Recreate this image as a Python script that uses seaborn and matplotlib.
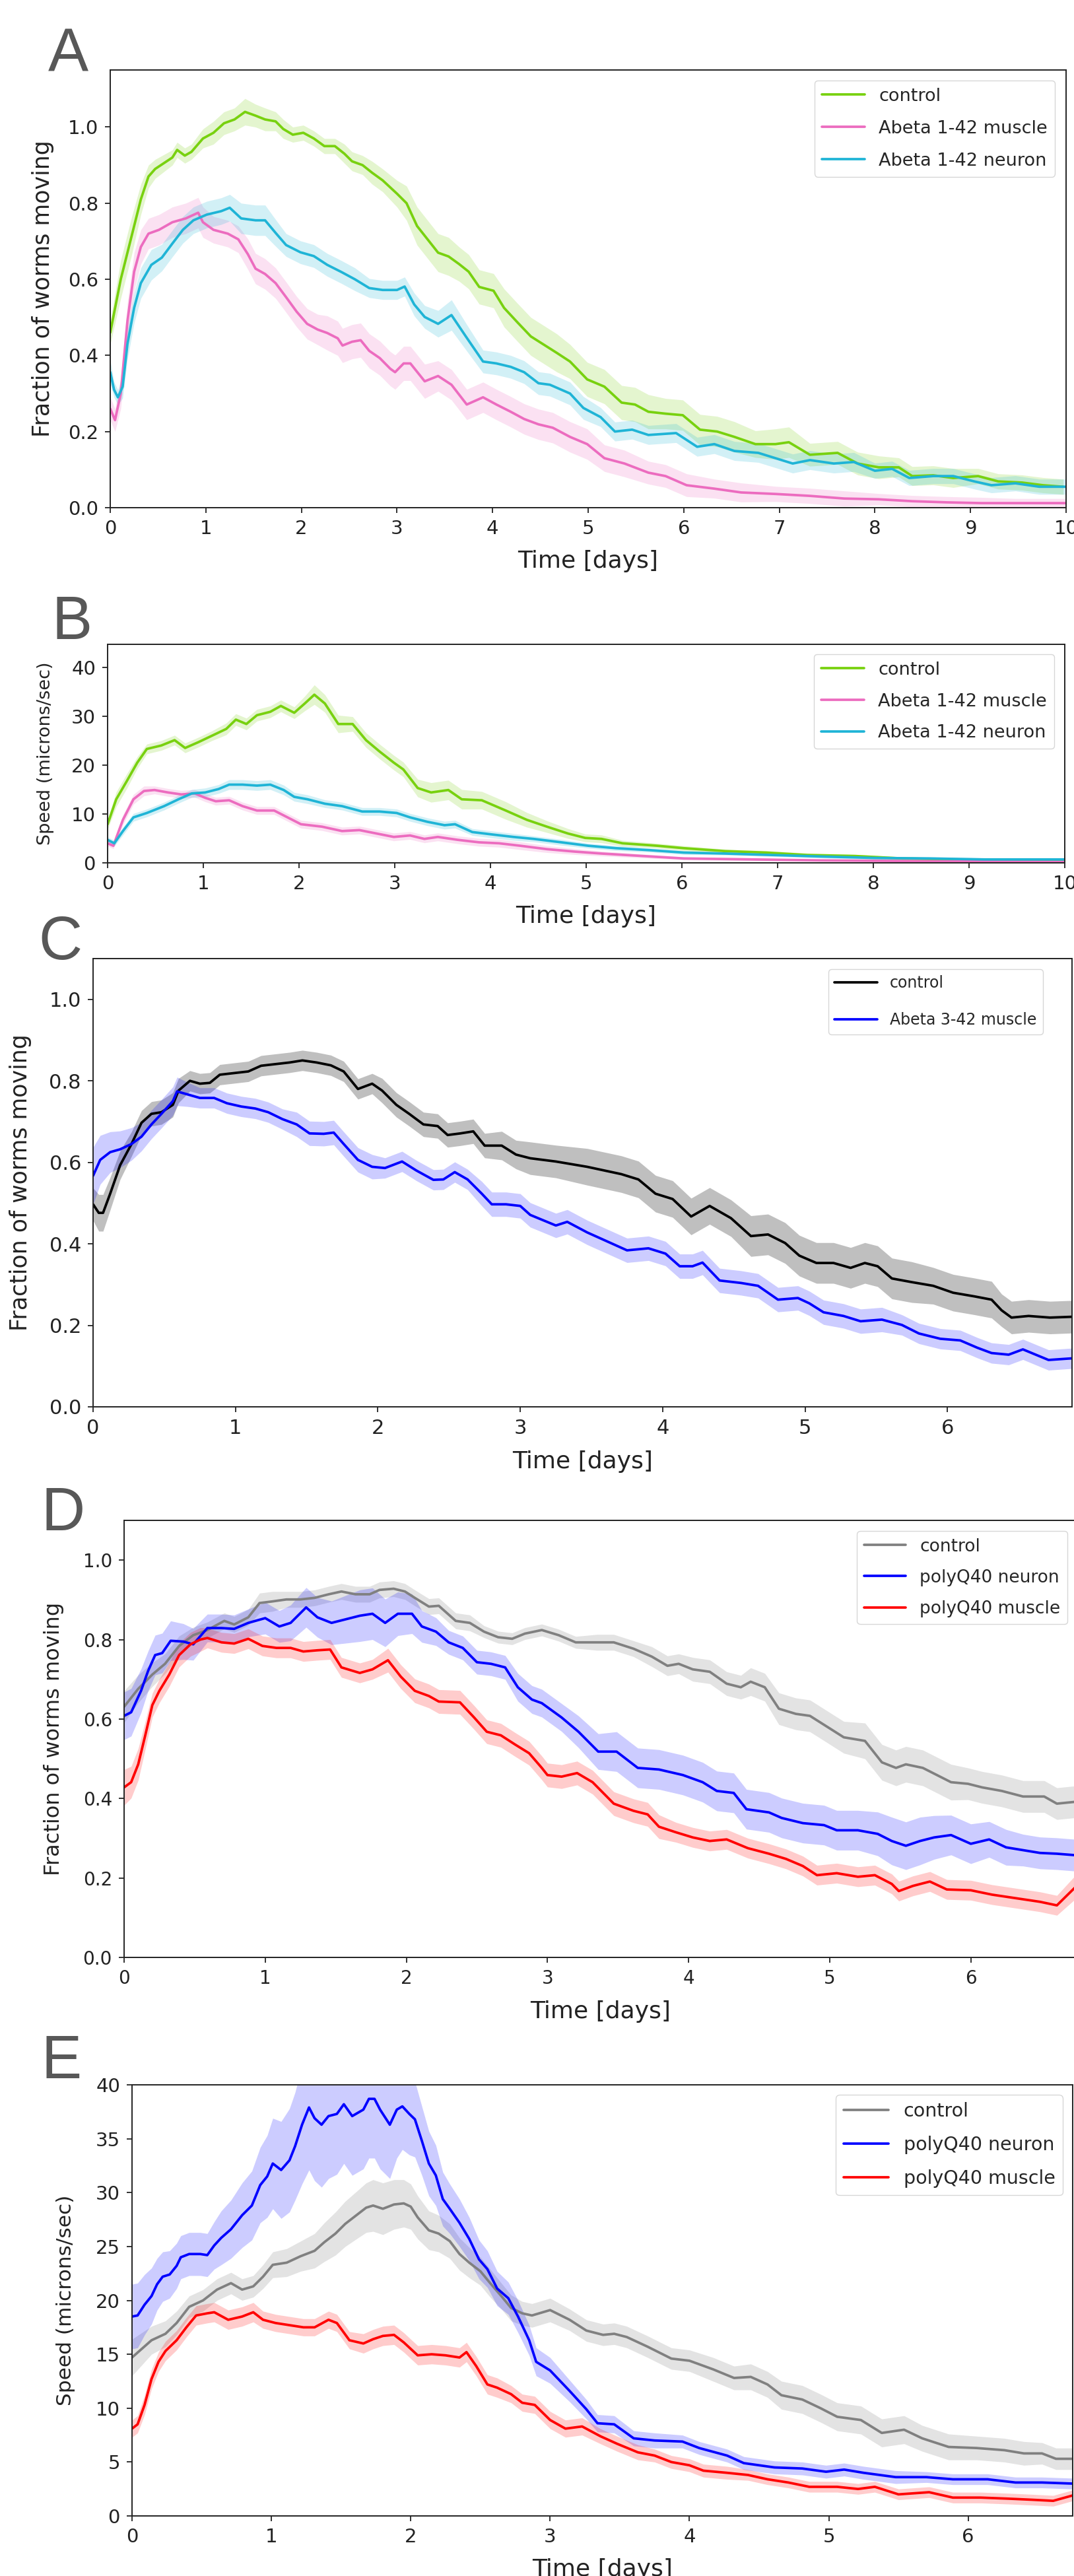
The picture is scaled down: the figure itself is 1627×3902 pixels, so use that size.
import numpy as np
import matplotlib
matplotlib.use('Agg')
import matplotlib.pyplot as plt
import seaborn as sns

# ---------------- Panel A: fraction moving, Abeta 1-42 ----------------
a_ctrl_t = [0, 0.11, 0.22, 0.32, 0.40, 0.47, 0.65, 0.70, 0.78, 0.85, 0.97, 1.08, 1.19, 1.30, 1.41, 1.52, 1.62, 1.73, 1.81, 1.91,
            2.02, 2.13, 2.24, 2.35, 2.45, 2.53, 2.64, 2.74, 2.85, 3.00, 3.10, 3.21, 3.32, 3.43, 3.54, 3.65, 3.75, 3.86, 4.01, 4.12,
            4.26, 4.40, 4.67, 4.81, 4.99, 5.17, 5.35, 5.49, 5.63, 5.81, 5.99, 6.17, 6.35, 6.53, 6.75, 6.96, 7.10, 7.32, 7.61, 7.82,
            8.04, 8.25, 8.39, 8.61, 8.82, 9.08, 9.29, 9.54, 9.76, 9.97]
a_ctrl = [0.46, 0.60, 0.71, 0.81, 0.87, 0.89, 0.92, 0.94, 0.925, 0.935, 0.97, 0.985, 1.01, 1.02, 1.04, 1.03, 1.02, 1.015, 0.995, 0.98,
          0.985, 0.97, 0.95, 0.95, 0.93, 0.91, 0.90, 0.88, 0.86, 0.825, 0.80, 0.74, 0.705, 0.67, 0.66, 0.64, 0.62, 0.58, 0.57, 0.525,
          0.487, 0.45, 0.407, 0.384, 0.337, 0.318, 0.276, 0.271, 0.252, 0.247, 0.243, 0.205, 0.200, 0.186, 0.167, 0.167, 0.172, 0.139, 0.144, 0.116,
          0.106, 0.106, 0.083, 0.085, 0.078, 0.083, 0.069, 0.066, 0.059, 0.055]
a_ctrl_err = [0.03, 0.05, 0.05, 0.04, 0.03, 0.025, 0.02, 0.02, 0.02, 0.02, 0.025, 0.03, 0.03, 0.03, 0.035, 0.03, 0.03, 0.025, 0.025, 0.02,
              0.02, 0.02, 0.02, 0.02, 0.025, 0.025, 0.025, 0.03, 0.03, 0.035, 0.045, 0.05, 0.05, 0.05, 0.05, 0.045, 0.045, 0.045, 0.045, 0.05,
              0.05, 0.05, 0.05, 0.045, 0.045, 0.045, 0.045, 0.045, 0.045, 0.04, 0.04, 0.04, 0.04, 0.04, 0.035, 0.04, 0.04, 0.03, 0.03, 0.03,
              0.03, 0.025, 0.025, 0.025, 0.025, 0.02, 0.02, 0.02, 0.02, 0.02]

a_musc_t = [0, 0.05, 0.11, 0.18, 0.25, 0.32, 0.40, 0.51, 0.65, 0.79, 0.92, 0.97, 1.08, 1.23, 1.34, 1.44, 1.52, 1.62, 1.73, 1.84,
            1.95, 2.06, 2.17, 2.27, 2.38, 2.43, 2.53, 2.62, 2.71, 2.82, 2.93, 2.98, 3.07, 3.14, 3.29, 3.43, 3.57, 3.73, 3.90, 4.04,
            4.19, 4.33, 4.48, 4.63, 4.81, 4.99, 5.17, 5.38, 5.63, 5.81, 6.03, 6.32, 6.60, 6.96, 7.32, 7.68, 8.04, 8.39, 8.75, 9.11,
            9.47, 10.0]
a_musc = [0.26, 0.23, 0.30, 0.49, 0.62, 0.685, 0.72, 0.73, 0.75, 0.76, 0.775, 0.75, 0.73, 0.72, 0.705, 0.666, 0.628, 0.614, 0.59, 0.553,
          0.515, 0.483, 0.468, 0.459, 0.445, 0.426, 0.436, 0.44, 0.412, 0.393, 0.365, 0.356, 0.379, 0.379, 0.332, 0.346, 0.323, 0.271, 0.29, 0.271,
          0.252, 0.233, 0.219, 0.21, 0.186, 0.167, 0.13, 0.116, 0.092, 0.083, 0.059, 0.05, 0.04, 0.036, 0.031, 0.024, 0.022, 0.017, 0.014, 0.012,
          0.012, 0.012]
a_musc_err = [0.03, 0.03, 0.04, 0.05, 0.05, 0.045, 0.04, 0.04, 0.04, 0.04, 0.04, 0.04, 0.035, 0.035, 0.035, 0.04, 0.04, 0.04, 0.04, 0.04,
              0.04, 0.04, 0.04, 0.045, 0.045, 0.045, 0.045, 0.045, 0.045, 0.045, 0.045, 0.045, 0.045, 0.045, 0.045, 0.04, 0.04, 0.04, 0.04, 0.04,
              0.04, 0.04, 0.04, 0.04, 0.04, 0.04, 0.035, 0.035, 0.03, 0.03, 0.03, 0.025, 0.025, 0.02, 0.02, 0.02, 0.015, 0.015, 0.015, 0.015,
              0.012, 0.012]

a_neur_t = [0, 0.04, 0.08, 0.13, 0.18, 0.25, 0.32, 0.43, 0.54, 0.65, 0.76, 0.87, 1.01, 1.16, 1.25, 1.37, 1.52, 1.62, 1.73, 1.84,
            1.99, 2.13, 2.27, 2.42, 2.56, 2.71, 2.85, 3.00, 3.08, 3.18, 3.29, 3.43, 3.57, 3.72, 3.90, 4.04, 4.19, 4.33, 4.48, 4.60,
            4.81, 4.95, 5.13, 5.28, 5.46, 5.63, 5.92, 6.14, 6.32, 6.53, 6.78, 7.14, 7.32, 7.57, 7.78, 8.00, 8.18, 8.36, 8.61, 8.82,
            9.04, 9.22, 9.47, 9.72, 10.0]
a_neur = [0.356, 0.31, 0.29, 0.318, 0.43, 0.525, 0.59, 0.638, 0.657, 0.694, 0.73, 0.755, 0.77, 0.779, 0.788, 0.76, 0.755, 0.755, 0.722, 0.69,
          0.671, 0.661, 0.638, 0.619, 0.60, 0.577, 0.572, 0.572, 0.581, 0.534, 0.501, 0.483, 0.506, 0.45, 0.384, 0.379, 0.37, 0.356, 0.327, 0.323,
          0.30, 0.262, 0.238, 0.20, 0.205, 0.191, 0.196, 0.16, 0.167, 0.149, 0.144, 0.116, 0.125, 0.116, 0.12, 0.097, 0.102, 0.078, 0.083, 0.083,
          0.069, 0.059, 0.064, 0.055, 0.055]
a_neur_err = [0.03, 0.02, 0.02, 0.03, 0.04, 0.04, 0.04, 0.04, 0.035, 0.035, 0.035, 0.035, 0.035, 0.035, 0.035, 0.04, 0.04, 0.04, 0.035, 0.03,
              0.03, 0.03, 0.03, 0.03, 0.03, 0.025, 0.025, 0.025, 0.025, 0.03, 0.03, 0.035, 0.04, 0.035, 0.03, 0.03, 0.03, 0.03, 0.03, 0.03,
              0.03, 0.03, 0.025, 0.025, 0.025, 0.025, 0.025, 0.025, 0.025, 0.025, 0.025, 0.025, 0.025, 0.025, 0.025, 0.02, 0.02, 0.02, 0.02, 0.02,
              0.02, 0.02, 0.02, 0.02, 0.02]

# ---------------- Panel B: speed, Abeta 1-42 ----------------
b_ctrl_t = [0, 0.09, 0.2, 0.31, 0.41, 0.56, 0.70, 0.81, 0.95, 1.09, 1.24, 1.34, 1.45, 1.56, 1.70, 1.81, 1.95, 2.06, 2.16, 2.27,
            2.41, 2.56, 2.70, 2.84, 2.99, 3.09, 3.24, 3.38, 3.56, 3.70, 3.91, 4.16, 4.38, 4.59, 4.81, 4.99, 5.16, 5.38, 5.74, 6.02,
            6.45, 6.88, 7.31, 7.81, 8.31, 8.88, 9.45, 10.0]
b_ctrl = [7.9, 13, 16.7, 20.5, 23.3, 24, 25.1, 23.5, 24.7, 26, 27.4, 29.3, 28.4, 30.2, 30.9, 32.1, 30.7, 32.6, 34.4, 32.6,
          28.4, 28.4, 25.1, 22.8, 20.5, 19.1, 15.3, 14.4, 14.9, 13, 12.8, 10.7, 8.8, 7.4, 6, 5.1, 4.9, 4, 3.5, 3,
          2.4, 2.1, 1.6, 1.4, 0.9, 0.7, 0.6, 0.5]
b_ctrl_err = [1.0, 1.5, 1.5, 1.2, 1.0, 1.0, 1.0, 1.0, 1.0, 1.0, 1.2, 1.2, 1.2, 1.2, 1.2, 1.2, 1.2, 1.5, 2.0, 1.8,
              1.8, 1.5, 1.5, 1.5, 1.5, 1.5, 1.8, 2.0, 2.0, 2.0, 1.8, 1.8, 1.5, 1.2, 1.0, 0.8, 0.8, 0.6, 0.5, 0.5,
              0.4, 0.4, 0.4, 0.3, 0.3, 0.3, 0.3, 0.3]

b_musc_t = [0, 0.06, 0.16, 0.27, 0.38, 0.49, 0.63, 0.77, 0.91, 1.02, 1.13, 1.27, 1.41, 1.56, 1.74, 1.88, 2.02, 2.24, 2.45, 2.63,
            2.81, 2.99, 3.16, 3.31, 3.45, 3.66, 3.88, 4.09, 4.31, 4.59, 4.88, 5.16, 5.59, 6.02, 6.74, 7.45, 8.16, 8.88, 10.0]
b_musc = [4, 3.5, 8.8, 13, 14.7, 14.9, 14.4, 14, 14.2, 13.3, 12.6, 12.8, 11.6, 10.7, 10.7, 9.3, 7.9, 7.4, 6.5, 6.7,
          6, 5.3, 5.6, 4.9, 5.3, 4.7, 4.2, 4, 3.5, 2.8, 2.3, 1.9, 1.4, 0.9, 0.7, 0.5, 0.4, 0.3, 0.2]
b_musc_err = [0.6, 0.6, 1.0, 1.0, 1.0, 0.8, 0.8, 0.8, 0.8, 0.8, 0.8, 0.8, 0.8, 0.8, 0.8, 0.8, 0.8, 0.8, 0.8, 0.8,
              0.8, 0.8, 0.8, 0.8, 0.8, 0.8, 0.8, 0.8, 0.8, 0.7, 0.6, 0.5, 0.4, 0.3, 0.3, 0.2, 0.2, 0.2, 0.2]

b_neur_t = [0, 0.07, 0.16, 0.27, 0.41, 0.59, 0.74, 0.88, 1.02, 1.16, 1.27, 1.41, 1.56, 1.70, 1.84, 1.95, 2.09, 2.27, 2.45, 2.66,
            2.84, 3.02, 3.16, 3.34, 3.52, 3.63, 3.81, 4.02, 4.24, 4.45, 4.74, 5.02, 5.31, 5.66, 6.02, 6.45, 6.95, 7.45, 8.02, 8.59,
            9.16, 10.0]
b_neur = [4.7, 4, 6.5, 9.3, 10.2, 11.6, 13, 14.2, 14.4, 15.1, 16, 16, 15.8, 16, 14.9, 13.5, 13, 12.1, 11.6, 10.5,
          10.5, 10.2, 9.3, 8.4, 7.7, 7.9, 6.3, 5.8, 5.3, 4.9, 4.2, 3.5, 3, 2.6, 2.1, 1.9, 1.6, 1.3, 1.0, 0.9,
          0.7, 0.7]
b_neur_err = [0.6, 0.6, 0.8, 0.8, 0.8, 0.8, 0.8, 0.8, 0.9, 0.9, 1.0, 1.0, 1.0, 1.0, 1.0, 0.9, 0.9, 0.8, 0.8, 0.8,
              0.8, 0.8, 0.8, 0.8, 0.8, 0.8, 0.7, 0.7, 0.7, 0.6, 0.6, 0.5, 0.5, 0.4, 0.4, 0.3, 0.3, 0.3, 0.3, 0.3,
              0.3, 0.3]

# ---------------- Panel C: fraction moving, Abeta 3-42 ----------------
c_ctrl_t = [0, 0.04, 0.07, 0.12, 0.19, 0.27, 0.34, 0.41, 0.48, 0.56, 0.60, 0.68, 0.75, 0.82, 0.89, 0.99, 1.09, 1.18, 1.28, 1.38,
            1.47, 1.57, 1.67, 1.76, 1.86, 1.96, 2.03, 2.13, 2.22, 2.32, 2.42, 2.49, 2.58, 2.67, 2.75, 2.87, 2.97, 3.07,
            3.25, 3.47, 3.71, 3.83, 3.95, 4.07, 4.20, 4.33, 4.48, 4.62, 4.74, 4.86, 4.96, 5.08, 5.20, 5.32, 5.42, 5.51, 5.61, 5.75,
            5.90, 6.04, 6.19, 6.31, 6.38, 6.45, 6.57, 6.72, 6.875]
c_ctrl = [0.497, 0.476, 0.476, 0.523, 0.593, 0.645, 0.697, 0.719, 0.723, 0.741, 0.776, 0.80, 0.793, 0.795, 0.815, 0.819, 0.823, 0.837, 0.841, 0.845,
          0.85, 0.845, 0.838, 0.823, 0.78, 0.793, 0.776, 0.741, 0.719, 0.693, 0.689, 0.667, 0.671, 0.676, 0.641, 0.641, 0.619, 0.61,
          0.602, 0.589, 0.571, 0.558, 0.523, 0.51, 0.467, 0.493, 0.463, 0.419, 0.423, 0.402, 0.371, 0.353, 0.353, 0.341, 0.353, 0.345, 0.315, 0.306,
          0.297, 0.28, 0.271, 0.263, 0.237, 0.219, 0.223, 0.219, 0.221]
c_ctrl_err = [0.04, 0.045, 0.045, 0.04, 0.035, 0.03, 0.03, 0.03, 0.03, 0.03, 0.03, 0.025, 0.025, 0.025, 0.025, 0.025, 0.025, 0.025, 0.025, 0.025,
              0.025, 0.025, 0.025, 0.025, 0.025, 0.025, 0.03, 0.03, 0.03, 0.03, 0.03, 0.03, 0.03, 0.03, 0.03, 0.035, 0.035, 0.04,
              0.04, 0.045, 0.045, 0.045, 0.045, 0.045, 0.045, 0.045, 0.045, 0.05, 0.05, 0.05, 0.05, 0.05, 0.05, 0.05, 0.05, 0.05, 0.05, 0.05,
              0.045, 0.045, 0.045, 0.045, 0.04, 0.04, 0.04, 0.04, 0.04]

c_musc_t = [0, 0.05, 0.12, 0.19, 0.27, 0.34, 0.41, 0.48, 0.56, 0.59, 0.66, 0.75, 0.85, 0.94, 1.04, 1.14, 1.23, 1.33, 1.43, 1.52,
            1.62, 1.69, 1.76, 1.86, 1.96, 2.05, 2.17, 2.27, 2.39, 2.46, 2.54, 2.63, 2.73, 2.80, 2.90, 3.00, 3.07,
            3.25, 3.33, 3.47, 3.61, 3.75, 3.90, 4.02, 4.12, 4.21, 4.28, 4.40, 4.55, 4.67, 4.81, 4.95, 5.03, 5.13, 5.27, 5.39, 5.54,
            5.68, 5.80, 5.95, 6.09, 6.21, 6.31, 6.43, 6.53, 6.62, 6.71, 6.875]
c_musc = [0.567, 0.606, 0.625, 0.632, 0.645, 0.663, 0.693, 0.719, 0.75, 0.774, 0.767, 0.758, 0.758, 0.745, 0.737, 0.732, 0.723, 0.706, 0.693, 0.671,
          0.67, 0.673, 0.645, 0.606, 0.589, 0.586, 0.602, 0.58, 0.557, 0.558, 0.576, 0.558, 0.523, 0.497, 0.497, 0.493, 0.471,
          0.445, 0.454, 0.428, 0.406, 0.384, 0.389, 0.376, 0.345, 0.345, 0.354, 0.31, 0.304, 0.297, 0.263, 0.267, 0.254, 0.232, 0.223, 0.21, 0.214,
          0.201, 0.18, 0.167, 0.163, 0.145, 0.132, 0.128, 0.141, 0.128, 0.115, 0.119]
c_musc_err = [0.07, 0.06, 0.05, 0.045, 0.04, 0.035, 0.035, 0.035, 0.035, 0.035, 0.03, 0.025, 0.025, 0.025, 0.025, 0.025, 0.025, 0.025, 0.03, 0.03,
              0.03, 0.03, 0.03, 0.03, 0.03, 0.025, 0.025, 0.025, 0.025, 0.025, 0.025, 0.025, 0.03, 0.03, 0.03, 0.03, 0.03,
              0.03, 0.03, 0.03, 0.03, 0.03, 0.03, 0.03, 0.03, 0.03, 0.03, 0.03, 0.03, 0.03, 0.03, 0.03, 0.03, 0.03, 0.03, 0.03, 0.03,
              0.025, 0.025, 0.025, 0.025, 0.025, 0.025, 0.025, 0.025, 0.025, 0.025, 0.025]

# ---------------- Panel D: fraction moving, polyQ40 ----------------
d_ctrl_t = [0, 0.10, 0.20, 0.29, 0.39, 0.49, 0.59, 0.71, 0.78, 0.88, 0.96, 1.05, 1.15, 1.25, 1.35, 1.45, 1.54, 1.64, 1.74, 1.81,
            1.91, 1.99, 2.06, 2.16, 2.23, 2.35, 2.45, 2.55, 2.65, 2.75, 2.84, 2.96,
            3.08, 3.20, 3.35, 3.47, 3.61, 3.74, 3.85, 3.93, 4.03, 4.15, 4.27, 4.37, 4.44, 4.54, 4.64, 4.76, 4.86, 4.98, 5.10, 5.25,
            5.37, 5.47, 5.54, 5.66, 5.76, 5.86, 5.98, 6.08, 6.22, 6.37, 6.52, 6.61, 6.75]
d_ctrl = [0.631, 0.676, 0.712, 0.739, 0.784, 0.811, 0.824, 0.847, 0.838, 0.856, 0.892, 0.896, 0.901, 0.901, 0.905, 0.914, 0.921, 0.914, 0.914, 0.925,
          0.928, 0.921, 0.905, 0.883, 0.885, 0.847, 0.842, 0.82, 0.806, 0.802, 0.815, 0.824,
          0.811, 0.793, 0.793, 0.793, 0.777, 0.757, 0.734, 0.739, 0.725, 0.719, 0.689, 0.68, 0.694, 0.68, 0.626, 0.613, 0.608, 0.581, 0.554, 0.545,
          0.491, 0.477, 0.486, 0.477, 0.459, 0.441, 0.437, 0.428, 0.419, 0.405, 0.405, 0.387, 0.392]
d_ctrl_err = [0.04, 0.035, 0.03, 0.025, 0.025, 0.02, 0.02, 0.02, 0.02, 0.02, 0.025, 0.025, 0.02, 0.02, 0.02, 0.02, 0.02, 0.02, 0.02, 0.02,
              0.02, 0.02, 0.02, 0.02, 0.02, 0.02, 0.02, 0.015, 0.015, 0.015, 0.015, 0.015,
              0.015, 0.015, 0.02, 0.02, 0.02, 0.025, 0.025, 0.025, 0.03, 0.03, 0.03, 0.03, 0.035, 0.035, 0.04, 0.04, 0.04, 0.04, 0.04, 0.045,
              0.045, 0.045, 0.045, 0.045, 0.045, 0.045, 0.04, 0.04, 0.04, 0.04, 0.04, 0.04, 0.04]

d_neur_t = [0, 0.05, 0.12, 0.17, 0.22, 0.27, 0.33, 0.42, 0.49, 0.59, 0.69, 0.78, 0.88, 1.00, 1.10, 1.18, 1.29, 1.37, 1.47, 1.57,
            1.67, 1.76, 1.85, 1.94, 2.04, 2.11, 2.21, 2.30, 2.40, 2.50, 2.60, 2.70, 2.79, 2.89, 2.96,
            3.10, 3.22, 3.36, 3.49, 3.64, 3.79, 3.96, 4.10, 4.20, 4.32, 4.41, 4.57, 4.66, 4.81, 4.96, 5.05, 5.20, 5.34, 5.44, 5.54,
            5.64, 5.74, 5.86, 6.00, 6.13, 6.25, 6.37, 6.49, 6.61, 6.75]
d_neur = [0.608, 0.617, 0.671, 0.721, 0.761, 0.766, 0.797, 0.795, 0.788, 0.829, 0.829, 0.827, 0.842, 0.854, 0.833, 0.842, 0.881, 0.856, 0.842, 0.851,
          0.86, 0.865, 0.842, 0.865, 0.865, 0.833, 0.82, 0.793, 0.779, 0.743, 0.739, 0.73, 0.68, 0.649, 0.64,
          0.604, 0.568, 0.518, 0.518, 0.477, 0.473, 0.459, 0.441, 0.419, 0.414, 0.373, 0.365, 0.351, 0.338, 0.333, 0.32, 0.32, 0.311, 0.293, 0.281,
          0.293, 0.302, 0.308, 0.286, 0.297, 0.277, 0.27, 0.263, 0.261, 0.257]
d_neur_err = [0.06, 0.06, 0.055, 0.05, 0.05, 0.05, 0.05, 0.045, 0.04, 0.035, 0.035, 0.035, 0.035, 0.04, 0.04, 0.045, 0.05, 0.05, 0.055, 0.06,
              0.065, 0.065, 0.06, 0.055, 0.05, 0.04, 0.035, 0.03, 0.03, 0.03, 0.03, 0.03, 0.035, 0.035, 0.035,
              0.035, 0.04, 0.045, 0.05, 0.05, 0.05, 0.05, 0.05, 0.05, 0.05, 0.05, 0.05, 0.05, 0.05, 0.05, 0.05, 0.05, 0.055, 0.06, 0.06,
              0.06, 0.055, 0.05, 0.05, 0.045, 0.045, 0.04, 0.04, 0.04, 0.04]

d_musc_t = [0, 0.05, 0.10, 0.15, 0.20, 0.25, 0.32, 0.39, 0.47, 0.54, 0.59, 0.69, 0.78, 0.88, 0.98, 1.08, 1.18, 1.27, 1.37, 1.46,
            1.54, 1.67, 1.76, 1.87, 1.96, 2.06, 2.16, 2.23, 2.38, 2.48, 2.57, 2.67, 2.77, 2.87, 2.96,
            3.00, 3.10, 3.21, 3.32, 3.47, 3.61, 3.71, 3.79, 3.91, 4.03, 4.15, 4.27, 4.42, 4.57, 4.69, 4.81, 4.91, 5.05, 5.20, 5.32,
            5.44, 5.49, 5.59, 5.71, 5.83, 6.00, 6.15, 6.32, 6.49, 6.61, 6.75]
d_musc = [0.428, 0.441, 0.486, 0.559, 0.635, 0.671, 0.712, 0.761, 0.788, 0.80, 0.804, 0.793, 0.79, 0.802, 0.784, 0.779, 0.779, 0.77, 0.773, 0.775,
          0.73, 0.716, 0.725, 0.748, 0.707, 0.671, 0.658, 0.644, 0.642, 0.604, 0.568, 0.559, 0.536, 0.514, 0.477,
          0.459, 0.455, 0.464, 0.441, 0.387, 0.369, 0.36, 0.329, 0.315, 0.302, 0.293, 0.297, 0.275, 0.261, 0.248, 0.23, 0.207, 0.212, 0.203, 0.207,
          0.185, 0.167, 0.18, 0.191, 0.171, 0.169, 0.158, 0.149, 0.14, 0.131, 0.18]
d_musc_err = [0.045, 0.04, 0.04, 0.035, 0.03, 0.03, 0.03, 0.03, 0.03, 0.03, 0.025, 0.025, 0.025, 0.025, 0.025, 0.025, 0.025, 0.025, 0.025, 0.025,
              0.025, 0.025, 0.025, 0.03, 0.03, 0.03, 0.03, 0.03, 0.03, 0.03, 0.03, 0.03, 0.03, 0.03, 0.03,
              0.03, 0.03, 0.03, 0.03, 0.03, 0.03, 0.03, 0.03, 0.025, 0.025, 0.025, 0.025, 0.025, 0.025, 0.025, 0.025, 0.025, 0.025, 0.025, 0.025,
              0.025, 0.025, 0.025, 0.025, 0.025, 0.025, 0.025, 0.025, 0.025, 0.025, 0.03]

# ---------------- Panel E: speed, polyQ40 ----------------
e_ctrl_t = [0, 0.07, 0.14, 0.24, 0.32, 0.41, 0.51, 0.61, 0.71, 0.79, 0.87, 0.94, 1.01, 1.11, 1.21, 1.31, 1.38, 1.46, 1.53, 1.61,
            1.68, 1.73, 1.80, 1.88, 1.95, 2.00, 2.05, 2.13, 2.20, 2.28, 2.35, 2.42, 2.50, 2.57, 2.65, 2.72, 2.80, 2.87,
            3.00, 3.14, 3.26, 3.38, 3.46, 3.55, 3.70, 3.87, 4.00, 4.17, 4.32, 4.44, 4.56, 4.66, 4.81, 4.94, 5.06, 5.23, 5.38, 5.54,
            5.67, 5.86, 6.06, 6.26, 6.40, 6.53, 6.63, 6.75]
e_ctrl = [14.7, 15.5, 16.3, 16.9, 17.9, 19.4, 20, 21, 21.6, 21, 21.3, 22.2, 23.3, 23.5, 24.1, 24.6, 25.4, 26.2, 27.1, 27.9,
          28.6, 28.8, 28.5, 28.9, 29, 28.7, 27.7, 26.5, 26.2, 25.5, 24.3, 23.5, 22.7, 21.6, 20.4, 19.3, 18.8, 18.6,
          19.1, 18.2, 17.2, 16.8, 16.9, 16.6, 15.7, 14.6, 14.4, 13.6, 12.8, 12.9, 12.2, 11.2, 10.8, 10, 9.2, 8.9, 7.7, 8,
          7.2, 6.4, 6.3, 6.1, 5.8, 5.8, 5.3, 5.3]
e_ctrl_err = [1.7, 1.5, 1.3, 1.2, 1.1, 1.0, 1.0, 1.0, 1.0, 1.0, 1.0, 1.1, 1.2, 1.3, 1.4, 1.6, 1.8, 2.0, 2.1, 2.2,
              2.3, 2.4, 2.4, 2.3, 2.2, 2.1, 2.0, 1.8, 1.7, 1.6, 1.5, 1.4, 1.3, 1.3, 1.2, 1.2, 1.1, 1.1,
              1.1, 1.0, 1.0, 1.0, 1.0, 1.0, 1.0, 1.0, 1.0, 1.1, 1.1, 1.2, 1.2, 1.3, 1.3, 1.3, 1.3, 1.3, 1.3, 1.3,
              1.2, 1.2, 1.1, 1.1, 1.1, 1.0, 1.0, 1.0]

e_neur_t = [0, 0.04, 0.09, 0.14, 0.18, 0.22, 0.27, 0.32, 0.35, 0.41, 0.49, 0.54, 0.59, 0.64, 0.71, 0.79, 0.86, 0.92, 0.97, 1.01,
            1.07, 1.13, 1.17, 1.22, 1.27, 1.31, 1.36, 1.41, 1.47, 1.52, 1.58, 1.66, 1.70, 1.74, 1.78, 1.85, 1.90, 1.94, 1.99, 2.03,
            2.08, 2.13, 2.18, 2.23, 2.28, 2.35, 2.42, 2.49, 2.55, 2.62, 2.70, 2.77, 2.85, 2.90,
            3.00, 3.14, 3.26, 3.34, 3.46, 3.60, 3.75, 3.95, 4.07, 4.27, 4.39, 4.61, 4.81, 4.98, 5.11, 5.25, 5.48, 5.70, 5.89, 6.14,
            6.34, 6.53, 6.75]
e_neur = [18.5, 18.6, 19.6, 20.4, 21.5, 22.2, 22.4, 23.2, 24, 24.3, 24.3, 24.2, 25.1, 25.8, 26.6, 27.9, 28.8, 30.7, 31.5, 32.7,
          32.1, 33, 34.3, 36.3, 37.9, 36.9, 36.3, 37.1, 37.3, 38.2, 37.1, 37.7, 38.7, 38.7, 37.7, 36.3, 37.7, 38, 37.3, 36.8,
          34.8, 32.7, 31.6, 29.4, 28.5, 27.2, 25.7, 23.8, 22.9, 21.1, 20.2, 18.5, 16.3, 14.3,
          13.5, 11.6, 9.9, 8.6, 8.5, 7.2, 7, 6.9, 6.3, 5.6, 4.9, 4.5, 4.4, 4.1, 4.3, 4, 3.6, 3.6, 3.4, 3.4,
          3.1, 3.1, 3]
e_neur_err = [3.0, 3.0, 2.8, 2.6, 2.4, 2.3, 2.2, 2.1, 2.0, 2.0, 2.0, 2.0, 2.2, 2.5, 2.7, 3.0, 3.2, 3.5, 3.8, 4.2,
              4.5, 4.8, 5.0, 5.5, 5.8, 5.8, 5.8, 5.8, 5.6, 5.5, 5.5, 5.5, 5.5, 5.5, 5.5, 5.0, 4.5, 4.0, 3.8, 3.5,
              3.2, 3.0, 2.8, 2.5, 2.3, 2.2, 2.0, 1.8, 1.7, 1.6, 1.5, 1.5, 1.4, 1.3,
              1.2, 1.0, 0.9, 0.8, 0.8, 0.7, 0.7, 0.6, 0.6, 0.6, 0.6, 0.6, 0.6, 0.6, 0.6, 0.6, 0.6, 0.5, 0.5, 0.5,
              0.5, 0.5, 0.5]

e_musc_t = [0, 0.04, 0.09, 0.14, 0.19, 0.24, 0.32, 0.39, 0.46, 0.54, 0.59, 0.69, 0.79, 0.87, 0.94, 1.03, 1.13, 1.23, 1.31, 1.41,
            1.47, 1.56, 1.66, 1.73, 1.80, 1.88, 1.95, 2.05, 2.15, 2.25, 2.35, 2.40, 2.47, 2.55, 2.62, 2.72, 2.80, 2.89,
            3.00, 3.11, 3.23, 3.36, 3.48, 3.63, 3.75, 3.87, 4.00, 4.10, 4.27, 4.42, 4.56, 4.71, 4.86, 5.06, 5.21, 5.33, 5.50, 5.72,
            5.89, 6.09, 6.29, 6.46, 6.61, 6.75]
e_musc = [8.1, 8.5, 10.3, 12.7, 14.3, 15.3, 16.3, 17.5, 18.6, 18.8, 18.9, 18.2, 18.5, 18.9, 18.2, 17.9, 17.7, 17.5, 17.5, 18.2,
          17.9, 16.3, 16, 16.4, 16.7, 16.8, 16.1, 14.9, 15, 14.9, 14.7, 15.2, 13.9, 12.2, 11.9, 11.3, 10.5, 10.3,
          8.9, 8.1, 8.3, 7.4, 6.7, 5.9, 5.6, 5, 4.7, 4.2, 4, 3.8, 3.4, 3.1, 2.7, 2.7, 2.5, 2.7, 2, 2.2,
          1.7, 1.7, 1.6, 1.5, 1.4, 1.9]
e_musc_err = [0.8, 0.8, 0.9, 0.9, 0.9, 0.9, 0.9, 0.9, 0.9, 0.9, 0.9, 0.9, 0.9, 0.9, 0.8, 0.8, 0.8, 0.8, 0.8, 0.8,
              0.8, 0.8, 0.9, 0.9, 0.9, 0.9, 0.9, 0.9, 0.9, 0.9, 0.9, 0.9, 0.9, 0.9, 0.9, 0.8, 0.8, 0.8,
              0.8, 0.8, 0.8, 0.7, 0.7, 0.7, 0.6, 0.6, 0.6, 0.6, 0.6, 0.5, 0.5, 0.5, 0.5, 0.5, 0.5, 0.5, 0.5, 0.5,
              0.5, 0.5, 0.5, 0.5, 0.5, 0.5]

GREEN, PINK, CYAN = '#78d10f', '#ec6cbf', '#1fb4d6'

sns.set_style('ticks')
plt.rcParams['font.family'] = ['DejaVu Sans']

W, H = 1627, 3902
fig = plt.figure(figsize=(W / 100, H / 100), dpi=100)


def make_axes(left, top, right, bottom):
    return fig.add_axes([left / W, 1 - bottom / H, (right - left) / W, (bottom - top) / H])


def draw(ax, t, v, err, color, label, alpha=0.2):
    t, v, err = np.array(t), np.array(v), np.array(err)
    ax.fill_between(t, v - err, v + err, color=color, alpha=alpha, lw=0)
    sns.lineplot(x=t, y=v, color=color, lw=2.7, label=label, ax=ax, sort=False)


def style(ax, tick_size, ylab, ylab_size, ylab_x, xlab_y, leg_xy, leg_size, leg_space=0.8, handle=2.4):
    for s in ax.spines.values():
        s.set_visible(True)
        s.set_linewidth(1.4)
        s.set_color('#222222')
    ax.tick_params(labelsize=tick_size, length=6, width=1.3, pad=7, colors='#222222', labelcolor='#222222')
    ax.set_xlabel('Time [days]', fontsize=26, color='#222222')
    ax.set_ylabel(ylab, fontsize=ylab_size, color='#222222')
    ax.yaxis.set_label_coords(ylab_x, 0.5)
    ax.xaxis.set_label_coords(0.5, xlab_y)
    ax.legend(loc='upper right', bbox_to_anchor=(leg_xy[0] / W, 1 - leg_xy[1] / H), bbox_transform=fig.transFigure,
              borderaxespad=0, fontsize=leg_size, handlelength=handle, labelspacing=leg_space,
              frameon=True, fancybox=True, framealpha=0.8, edgecolor='0.8')


def letter(text, x, baseline):
    fig.text(x / W, 1 - baseline / H, text, fontsize=66, color='#585858', family='Liberation Sans',
             ha='left', va='baseline')


# A
ax = make_axes(167, 106, 1615, 769)
draw(ax, a_ctrl_t, a_ctrl, a_ctrl_err, GREEN, 'control')
draw(ax, a_musc_t, a_musc, a_musc_err, PINK, 'Abeta 1-42 muscle')
draw(ax, a_neur_t, a_neur, a_neur_err, CYAN, 'Abeta 1-42 neuron')
ax.set_xlim(0, 10)
ax.set_ylim(0, 1.15)
ax.set_xticks(range(0, 11))
ax.set_yticks([0, 0.2, 0.4, 0.6, 0.8, 1.0])
ax.set_yticklabels(['0.0', '0.2', '0.4', '0.6', '0.8', '1.0'])
style(ax, 21, 'Fraction of worms moving', 25, -0.059, -0.097, (1598, 122), 19.5, leg_space=0.85)
letter('A', 73, 108)

# B
ax = make_axes(163, 976, 1613, 1307)
draw(ax, b_ctrl_t, b_ctrl, b_ctrl_err, GREEN, 'control')
draw(ax, b_musc_t, b_musc, b_musc_err, PINK, 'Abeta 1-42 muscle')
draw(ax, b_neur_t, b_neur, b_neur_err, CYAN, 'Abeta 1-42 neuron')
ax.set_xlim(0, 10)
ax.set_ylim(0, 44.7)
ax.set_xticks(range(0, 11))
ax.set_yticks([0, 10, 20, 30, 40])
style(ax, 21, 'Speed (microns/sec)', 19.5, -0.056, -0.193, (1597, 991), 19.5, leg_space=0.8)
letter('B', 78, 968)

# C
ax = make_axes(141, 1452, 1624, 2131)
draw(ax, c_ctrl_t, c_ctrl, c_ctrl_err, 'black', 'control', alpha=0.25)
draw(ax, c_musc_t, c_musc, c_musc_err, '#0000ff', 'Abeta 3-42 muscle')
ax.set_xlim(0, 6.875)
ax.set_ylim(0, 1.1)
ax.set_xticks(range(0, 7))
ax.set_yticks([0, 0.2, 0.4, 0.6, 0.8, 1.0])
ax.set_yticklabels(['0.0', '0.2', '0.4', '0.6', '0.8', '1.0'])
style(ax, 22, 'Fraction of worms moving', 25, -0.063, -0.097, (1580, 1468), 17, leg_space=1.35, handle=2.75)
letter('C', 58, 1453)

# D
ax = make_axes(188, 2303, 1631, 2965)
draw(ax, d_ctrl_t, d_ctrl, d_ctrl_err, 'gray', 'control', alpha=0.22)
draw(ax, d_neur_t, d_neur, d_neur_err, '#0000ff', 'polyQ40 neuron')
draw(ax, d_musc_t, d_musc, d_musc_err, '#ff0000', 'polyQ40 muscle')
ax.set_xlim(0, 6.75)
ax.set_ylim(0, 1.1)
ax.set_xticks(range(0, 7))
ax.set_yticks([0, 0.2, 0.4, 0.6, 0.8, 1.0])
ax.set_yticklabels(['0.0', '0.2', '0.4', '0.6', '0.8', '1.0'])
style(ax, 20, 'Fraction of worms moving', 23, -0.063, -0.098, (1617, 2319), 19)
letter('D', 63, 2318)

# E
ax = make_axes(200, 3158, 1625, 3811)
draw(ax, e_ctrl_t, e_ctrl, e_ctrl_err, 'gray', 'control', alpha=0.22)
draw(ax, e_neur_t, e_neur, e_neur_err, '#0000ff', 'polyQ40 neuron')
draw(ax, e_musc_t, e_musc, e_musc_err, '#ff0000', 'polyQ40 muscle')
ax.set_xlim(0, 6.75)
ax.set_ylim(0, 40)
ax.set_xticks(range(0, 7))
ax.set_yticks(range(0, 41, 5))
style(ax, 21, 'Speed (microns/sec)', 22.5, -0.06, -0.098, (1610, 3173), 20.5)
letter('E', 63, 3148)

fig.savefig('out.png', dpi=100)
